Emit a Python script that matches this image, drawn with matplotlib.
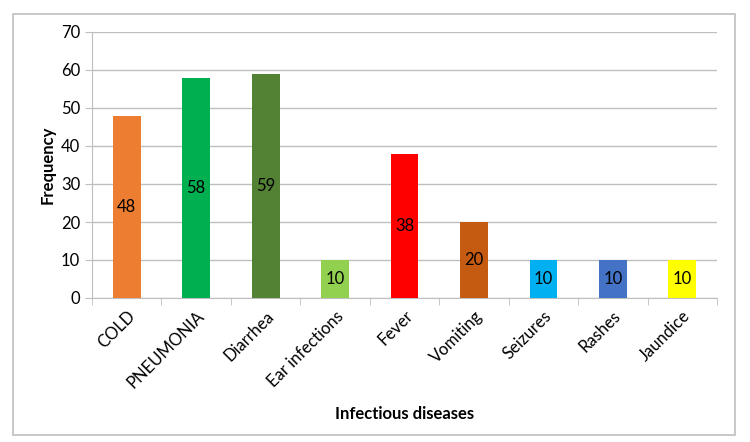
import matplotlib.pyplot as plt
from matplotlib.patches import Rectangle

categories = ["COLD", "PNEUMONIA", "Diarrhea", "Ear infections", "Fever",
              "Vomiting", "Seizures", "Rashes", "Jaundice"]
frequency = [48, 58, 59, 10, 38, 20, 10, 10, 10]
colors = ["#ED7D31", "#00B050", "#548235", "#92D050", "#FF0000",
          "#C55A11", "#00B0F0", "#4472C4", "#FFFF00"]

plt.rcParams['font.family'] = ['Lato', 'DejaVu Sans']
grid_color = "#bfbfbf"

fig = plt.figure(figsize=(7.5, 4.42), dpi=100)
fig.patches.append(Rectangle((13 / 750, 1 - 435 / 442), 722 / 750, 421 / 442,
                             transform=fig.transFigure, fill=False,
                             edgecolor=grid_color, linewidth=1.2))

ax = fig.add_axes([92 / 750, 1 - 298 / 442, 625 / 750, 266 / 442])
x = range(len(categories))
bars = ax.bar(x, frequency, width=0.4, color=colors, zorder=3)
for bar, val in zip(bars, frequency):
    ax.text(bar.get_x() + bar.get_width() / 2, val / 2, str(val),
            ha='center', va='center', fontsize=12, zorder=4)

ax.set_xlim(-0.5, len(categories) - 0.5)
ax.set_ylim(0, 70)
ax.set_yticks(range(0, 71, 10))
ax.set_xticks(x)
ax.set_xticklabels(categories, rotation=45, ha='right', rotation_mode='anchor',
                   fontsize=12)
ax.set_xticks([i - 0.5 for i in range(len(categories) + 1)], minor=True)
ax.tick_params(axis='x', which='major', length=0, pad=7)
ax.tick_params(axis='x', which='minor', length=5, color=grid_color)
ax.tick_params(axis='y', length=5, color=grid_color, labelsize=12)
ax.yaxis.grid(True, color=grid_color, linewidth=1, zorder=0)
for side in ['top', 'right']:
    ax.spines[side].set_visible(False)
for side in ['left', 'bottom']:
    ax.spines[side].set_color(grid_color)

ax.set_ylabel("Frequency", fontweight='bold', fontsize=12, labelpad=4)
ax.set_xlabel("Infectious diseases", fontweight='bold', fontsize=12)
ax.xaxis.set_label_coords(0.5, -0.405)

fig.savefig("out.png", dpi=100)
